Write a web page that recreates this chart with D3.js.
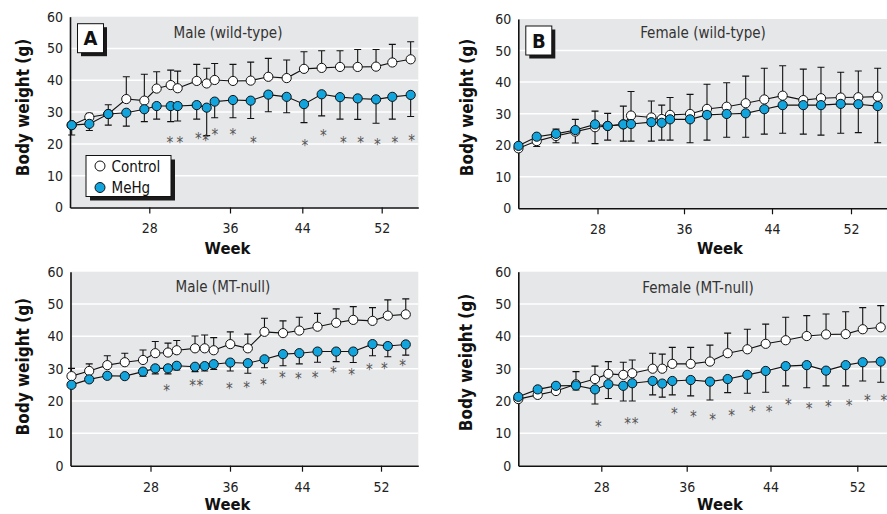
<!DOCTYPE html>
<html>
<head>
<meta charset="utf-8">
<script src="https://cdn.jsdelivr.net/npm/d3@7"></script>
<style>
  body { margin: 0; background: #fff; }
  svg { display: block; font-family: "Liberation Sans Narrow", "Arial Narrow", "DejaVu Sans Condensed", sans-serif; }
</style>
</head>
<body>
<svg width="887" height="514"></svg>
<script>
// ---- data ----
const xTicks = [28, 36, 44, 52];
const yTicks = [0, 10, 20, 30, 40, 50, 60];
const titles = ['Male (wild-type)', 'Female (wild-type)', 'Male (MT-null)', 'Female (MT-null)'];
const letters = ['A', 'B', '', ''];
const legendLabels = ['Control', 'MeHg'];

// A: male wild-type
const weeksA = [20.17, 21.95, 23.86, 25.68, 27.5, 28.73, 30.12, 30.81, 32.7, 33.69, 34.48, 36.33, 38.29, 40.24, 42.27, 44.17, 45.95, 47.8, 49.58, 51.43, 53.07, 54.92];
const controlA = [25.9, 28.4, 29.4, 34.1, 33.6, 37.4, 38.5, 37.5, 39.8, 39.0, 40.1, 39.8, 39.9, 41.1, 40.7, 43.6, 43.9, 44.2, 44.2, 44.3, 45.6, 46.6];
const controlSdA = [0.8, 1.2, 2.9, 7.0, 8.3, 5.3, 4.7, 5.4, 5.2, 4.8, 5.2, 5.2, 5.8, 5.8, 5.7, 5.4, 5.4, 5.1, 5.5, 5.4, 5.7, 5.5];
const mehgA = [25.9, 26.3, 29.4, 29.8, 30.9, 31.9, 31.9, 31.9, 32.2, 31.4, 33.3, 33.8, 33.6, 35.5, 34.8, 32.5, 35.6, 34.7, 34.3, 34.0, 34.8, 35.4];
const mehgSdA = [3.1, 2.1, 3.5, 4.2, 3.9, 4.1, 4.9, 4.7, 4.4, 8.8, 5.1, 5.6, 5.6, 5.4, 5.0, 5.8, 6.8, 6.9, 6.6, 7.5, 7.0, 6.8];
const starWeeksA = [30.05, 31.04, 32.86, 33.59, 34.51, 36.33, 38.58, 44.27, 46.12, 48.13, 49.88, 51.56, 53.34, 55.02];
const starYA = [21.2, 21.2, 22.6, 21.8, 23.6, 23.6, 21.2, 20.2, 23.3, 21.2, 21.2, 20.5, 21.2, 21.9];

// B: female wild-type
const weeksB = [20.02, 21.86, 23.81, 25.76, 27.75, 28.94, 30.39, 31.1, 32.98, 33.94, 34.71, 36.55, 38.09, 39.88, 41.61, 43.3, 45.08, 47.17, 48.96, 50.96, 52.74, 54.7];
const controlB = [19.0, 21.3, 22.9, 24.3, 25.7, 26.1, 26.6, 29.4, 28.8, 28.3, 29.6, 29.9, 31.5, 32.2, 33.3, 34.5, 35.7, 34.3, 34.9, 35.1, 35.2, 35.4];
const controlSdB = [1.0, 1.0, 2.2, 3.9, 5.1, 4.0, 5.8, 7.6, 5.2, 4.4, 5.5, 6.2, 7.8, 7.6, 8.6, 9.9, 9.5, 9.8, 9.8, 8.0, 8.3, 9.0];
const mehgB = [19.8, 22.7, 23.6, 24.8, 26.6, 26.1, 26.6, 26.7, 27.3, 27.1, 28.2, 28.2, 29.6, 29.9, 30.1, 31.4, 32.7, 32.7, 32.7, 33.1, 33.0, 32.4];
const mehgSdB = [1.6, 3.1, 2.8, 4.1, 6.1, 4.5, 5.3, 5.4, 6.0, 5.5, 6.6, 7.4, 8.0, 7.4, 7.6, 7.9, 8.9, 9.2, 9.5, 9.3, 9.0, 11.6];
const starWeeksB = [];
const starYB = [];

// C: male MT-null
const weeksC = [20.1, 21.87, 23.68, 25.43, 27.25, 28.48, 29.76, 30.64, 32.48, 33.45, 34.36, 36.03, 37.98, 39.83, 41.89, 43.7, 45.57, 47.46, 49.19, 51.14, 52.69, 54.51];
const controlC = [27.7, 29.3, 31.1, 32.0, 32.7, 34.8, 35.0, 35.7, 36.3, 36.3, 35.7, 37.6, 36.3, 41.4, 41.0, 41.8, 43.0, 44.2, 45.1, 44.8, 46.4, 46.8];
const controlSdC = [2.4, 2.2, 2.9, 2.8, 3.1, 3.6, 2.9, 3.0, 3.8, 4.1, 3.9, 3.8, 4.4, 4.2, 3.8, 4.1, 4.1, 4.3, 4.1, 4.1, 4.9, 4.8];
const mehgC = [25.0, 26.7, 27.8, 27.7, 29.1, 30.1, 30.1, 30.9, 30.6, 30.8, 31.4, 31.9, 31.7, 32.9, 34.5, 34.8, 35.3, 35.3, 35.3, 37.6, 37.0, 37.5];
const mehgSdC = [0.5, 0.7, 0.8, 0.7, 1.4, 1.7, 1.7, 1.3, 1.5, 1.5, 1.6, 2.6, 3.1, 2.6, 3.6, 3.3, 3.3, 3.1, 3.4, 3.6, 3.3, 3.3];
const starWeeksC = [29.63, 32.25, 32.98, 35.93, 37.86, 39.7, 41.81, 43.59, 45.32, 47.17, 49.03, 50.82, 52.33, 54.2];
const starYC = [23.9, 25.5, 25.5, 24.7, 25.0, 25.8, 28.1, 27.7, 28.1, 29.6, 29.1, 30.4, 30.8, 31.7];

// D: female MT-null
const weeksD = [20, 21.87, 23.63, 25.56, 27.39, 28.66, 30.06, 30.9, 32.81, 33.71, 34.65, 36.38, 38.22, 39.91, 41.79, 43.54, 45.4, 47.34, 49.12, 50.93, 52.5, 54.16];
const controlD = [20.6, 21.9, 23.1, 25.2, 26.8, 28.4, 28.1, 28.6, 30.0, 30.0, 31.5, 31.5, 32.2, 34.8, 36.0, 37.7, 38.8, 40.1, 40.6, 40.7, 42.2, 42.8];
const controlSdD = [0.8, 0.8, 0.8, 3.9, 4.0, 3.8, 3.9, 4.1, 4.8, 4.5, 5.1, 5.1, 5.1, 6.2, 6.2, 6.1, 7.1, 6.3, 6.3, 6.9, 6.7, 6.7];
const mehgD = [21.3, 23.6, 24.7, 24.8, 23.6, 25.2, 24.7, 25.5, 26.2, 25.4, 26.2, 26.5, 26.0, 26.8, 28.1, 29.3, 30.8, 31.1, 29.4, 31.1, 32.0, 32.2];
const mehgSdD = [0.8, 0.8, 0.8, 1.4, 4.5, 4.4, 4.7, 5.5, 4.3, 4.2, 4.3, 4.9, 5.7, 4.2, 5.7, 6.6, 6.1, 7.0, 4.7, 6.4, 5.8, 6.4];
const starWeeksD = [27.71, 30.47, 31.16, 34.84, 36.63, 38.48, 40.3, 42.26, 43.86, 45.64, 47.55, 49.33, 51.24, 52.92, 54.46];
const starYD = [12.8, 13.9, 13.9, 17.0, 15.9, 15.2, 16.2, 17.5, 17.5, 19.8, 18.6, 19.0, 19.3, 20.8, 20.8];

// ---- layout ----
const blue = '#12a4dd';
const bg = '#e6e7e8';
const svg = d3.select('svg');

const panels = [
  { weeks: weeksA, control: controlA, controlSd: controlSdA, mehg: mehgA, mehgSd: mehgSdA, starW: starWeeksA, starY: starYA,
    xStops: [70, 149.3, 230, 302.3, 381.7, 418.3], xEnd: 55.69, yRange: [207.5, 16.7],
    titleX: 228, titleY: 38.3, yLab: [28.5, 107.5], weekX: 227.5, weekY: 254, legend: true },
  { weeks: weeksB, control: controlB, controlSd: controlSdB, mehg: mehgB, mehgSd: mehgSdB, starW: starWeeksB, starY: starYB,
    xStops: [518.3, 597.5, 684, 772, 851, 900], xEnd: 56.96, yRange: [208.3, 19],
    titleX: 703, titleY: 38.3, yLab: [473, 107.5], weekX: 720, weekY: 254 },
  { weeks: weeksC, control: controlC, controlSd: controlSdC, mehg: mehgC, mehgSd: mehgSdC, starW: starWeeksC, starY: starYC,
    xStops: [70.5, 150.5, 230, 302, 381, 418.3], xEnd: 55.78, yRange: [465.7, 271.7],
    titleX: 223, titleY: 292.3, yLab: [28.5, 366.7], weekX: 227.5, weekY: 510 },
  { weeks: weeksD, control: controlD, controlSd: controlSdD, mehg: mehgD, mehgSd: mehgSdD, starW: starWeeksD, starY: starYD,
    xStops: [518.3, 601.3, 686.7, 770.5, 857.3, 900], xEnd: 55.94, yRange: [465.7, 271.7],
    titleX: 698, titleY: 292.7, yLab: [472, 362.5], weekX: 720, weekY: 510 }
];

function drawPanel(p, i) {
  const g = svg.append('g');
  const x = d3.scaleLinear().domain([20, ...xTicks, p.xEnd]).range(p.xStops);
  const y = d3.scaleLinear().domain([0, 60]).range(p.yRange);
  const x0 = p.xStops[0];
  const x1 = p.xStops[p.xStops.length - 1];

  // grey plot area + white gridlines
  g.append('rect')
    .attr('x', x0).attr('y', y(60))
    .attr('width', x1 - x0).attr('height', y(0) - y(60))
    .attr('fill', bg);
  g.selectAll('.grid')
    .data(yTicks.slice(1, -1))
    .join('line')
    .attr('x1', x0).attr('x2', x1)
    .attr('y1', (d) => y(d)).attr('y2', (d) => y(d))
    .attr('stroke', '#fff').attr('stroke-width', 1.5);

  // axes
  const xAxis = d3.axisBottom(x).tickValues(xTicks).tickSize(6).tickSizeOuter(0).tickPadding(10);
  const yAxis = d3.axisLeft(y).tickValues(yTicks).tickSize(0).tickPadding(7);
  const gx = g.append('g').attr('transform', `translate(0,${y(0)})`).call(xAxis);
  const gy = g.append('g').attr('transform', `translate(${x0},0)`).call(yAxis);
  [gx, gy].forEach((a) => {
    a.attr('font-family', null).attr('font-size', 14);
    a.select('.domain').attr('stroke', '#111').attr('stroke-width', 1.6);
    a.selectAll('.tick line').attr('stroke', '#111').attr('stroke-width', 1.2);
    a.selectAll('.tick text').attr('fill', '#222');
  });

  // letter box
  if (letters[i]) {
    const bx = x0 + 7.5, by = y(60) + 7;
    g.append('rect').attr('x', bx + 3.5).attr('y', by + 3.5).attr('width', 26).attr('height', 29).attr('fill', '#1a1a1a');
    g.append('rect').attr('x', bx).attr('y', by).attr('width', 26).attr('height', 29)
      .attr('fill', '#fff').attr('stroke', '#111').attr('stroke-width', 1);
    g.append('text').attr('x', bx + 13).attr('y', by + 21.5).attr('text-anchor', 'middle')
      .attr('font-weight', 'bold').attr('font-size', 20).attr('fill', '#111').text(letters[i]);
  }

  // title
  g.append('text').attr('x', p.titleX).attr('y', p.titleY).attr('text-anchor', 'middle')
    .attr('font-size', 15).attr('fill', '#333').text(titles[i]);

  // error bars: control up, MeHg down
  const cap = 3.5;
  const bars = (means, sds, dir) => p.weeks.map((w, k) => ({ w, m: means[k], e: means[k] + dir * sds[k] }));
  g.selectAll('.err')
    .data([...bars(p.control, p.controlSd, 1), ...bars(p.mehg, p.mehgSd, -1)])
    .join('path')
    .attr('d', (d) => `M${x(d.w)},${y(d.m)}V${y(d.e)}M${x(d.w) - cap},${y(d.e)}h${cap * 2}`)
    .attr('fill', 'none').attr('stroke', '#111').attr('stroke-width', 1.1);

  // lines
  const line = d3.line().x((d) => x(d[0])).y((d) => y(d[1]));
  [p.control, p.mehg].forEach((vals) => {
    g.append('path')
      .datum(p.weeks.map((w, k) => [w, vals[k]]))
      .attr('d', line)
      .attr('fill', 'none').attr('stroke', '#111').attr('stroke-width', 1.1);
  });

  // markers
  [[p.control, '#fff'], [p.mehg, blue]].forEach(([vals, fill]) => {
    g.selectAll(null)
      .data(p.weeks.map((w, k) => [w, vals[k]]))
      .join('circle')
      .attr('cx', (d) => x(d[0])).attr('cy', (d) => y(d[1]))
      .attr('r', 4.6)
      .attr('fill', fill).attr('stroke', '#111').attr('stroke-width', 1);
  });

  // significance asterisks
  g.selectAll('.star')
    .data(p.starW.map((w, k) => [w, p.starY[k]]))
    .join('text')
    .attr('x', (d) => x(d[0])).attr('y', (d) => y(d[1]) + 8)
    .attr('text-anchor', 'middle').attr('font-size', 15).attr('fill', '#555')
    .text('*');

  // axis titles
  g.append('text')
    .attr('transform', `translate(${p.yLab[0]},${p.yLab[1]}) rotate(-90)`)
    .attr('text-anchor', 'middle').attr('font-weight', 'bold').attr('font-size', 17).attr('fill', '#111')
    .text('Body weight (g)');
  g.append('text').attr('x', p.weekX).attr('y', p.weekY).attr('text-anchor', 'middle')
    .attr('font-weight', 'bold').attr('font-size', 16.5).attr('fill', '#111').text('Week');

  // legend
  if (p.legend) {
    const lx = 86, ly = 155.5, lw = 85, lh = 41;
    g.append('rect').attr('x', lx + 4).attr('y', ly + 4).attr('width', lw).attr('height', lh).attr('fill', '#1a1a1a');
    g.append('rect').attr('x', lx).attr('y', ly).attr('width', lw).attr('height', lh)
      .attr('fill', '#fff').attr('stroke', '#111').attr('stroke-width', 1);
    const items = g.selectAll('.leg').data(legendLabels).join('g')
      .attr('transform', (d, k) => `translate(${lx + 14},${ly + 10.5 + k * 21.5})`);
    items.append('circle').attr('r', 5).attr('fill', (d, k) => (k ? blue : '#fff'))
      .attr('stroke', '#111').attr('stroke-width', 1);
    items.append('text').attr('x', 11.5).attr('y', 5.5).attr('font-size', 15).attr('fill', '#111').text((d) => d);
  }
}

panels.forEach(drawPanel);
</script>
</body>
</html>
